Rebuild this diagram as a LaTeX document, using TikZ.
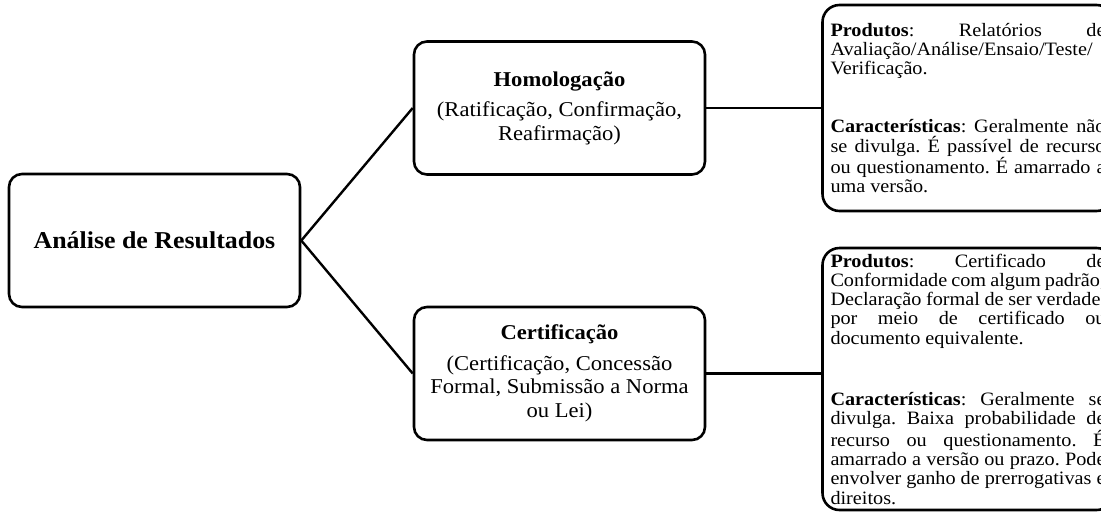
\documentclass[tikz,border=0pt]{standalone}
\usepackage{fontspec}
\setmainfont{Liberation Serif}[FakeStretch=1.07]
\frenchspacing
\begin{document}
\begin{tikzpicture}[x=1pt,y=-1pt,
  box/.style={draw, line width=2.6pt, rounded corners=13pt,
    minimum width=291pt, minimum height=133pt, inner sep=0pt, align=center},
  infobox/.style={draw, line width=2.6pt, rounded corners=17pt,
    inner xsep=8pt, inner ysep=0pt, text width=275pt, align=justify,
    font=\fontsize{18.9}{19.3}\selectfont},
  midfont/.style={font=\fontsize{21.1}{23.5}\selectfont},
  link/.style={line width=2.4pt}]
\useasboundingbox (0,0) rectangle (1101,515);

% root node
\node[box, font=\fontsize{24.2}{28}\selectfont\bfseries] (root) at (154.5,240.5)
  {Análise de Resultados};

% second level
\node[box, midfont] (hom) at (559.5,108)
  {\textbf{Homologação}\\[7pt](Ratificação, Confirmação,\\Reafirmação)};
\node[box, midfont] (cert) at (559.5,373.5)
  {\textbf{Certificação}\\[7pt](Certificação, Concessão\\Formal, Submissão a Norma\\ou Lei)};

% detail boxes
\node[infobox, minimum height=206pt] (tr) at (968,108)
  {\hyphenpenalty=10000\exhyphenpenalty=10000\parindent=0pt
   \textbf{Produtos}: Relatórios de\linebreak
   Avaliação/Análise/Ensaio/Teste/\linebreak
   Verificação.\par\vspace{39pt}
   \textbf{Características}: Geralmente não\linebreak
   se divulga. É passível de recurso\linebreak
   ou questionamento. É amarrado a\linebreak
   uma versão.\par};
\node[infobox, minimum height=262pt] (br) at (968,379)
  {\hyphenpenalty=10000\exhyphenpenalty=10000\parindent=0pt
   \textbf{Produtos}: Certificado de\linebreak
   Conformidade com algum padrão;\linebreak
   Declaração formal de ser verdade,\linebreak
   por meio de certificado ou\linebreak
   documento equivalente.\par\vspace{42pt}
   \textbf{Características}: Geralmente se\linebreak
   divulga. Baixa probabilidade de\linebreak
   recurso ou questionamento. É\linebreak
   amarrado a versão ou prazo. Pode\linebreak
   envolver ganho de prerrogativas e\linebreak
   direitos.\par};

% connectors
\draw[link] (root.east) -- (hom.west);
\draw[link] (root.east) -- (cert.west);
\draw[link] (hom.east) -- (tr.west);
\draw[link] (cert.east) -- (cert.east -| br.west);
\end{tikzpicture}
\end{document}
